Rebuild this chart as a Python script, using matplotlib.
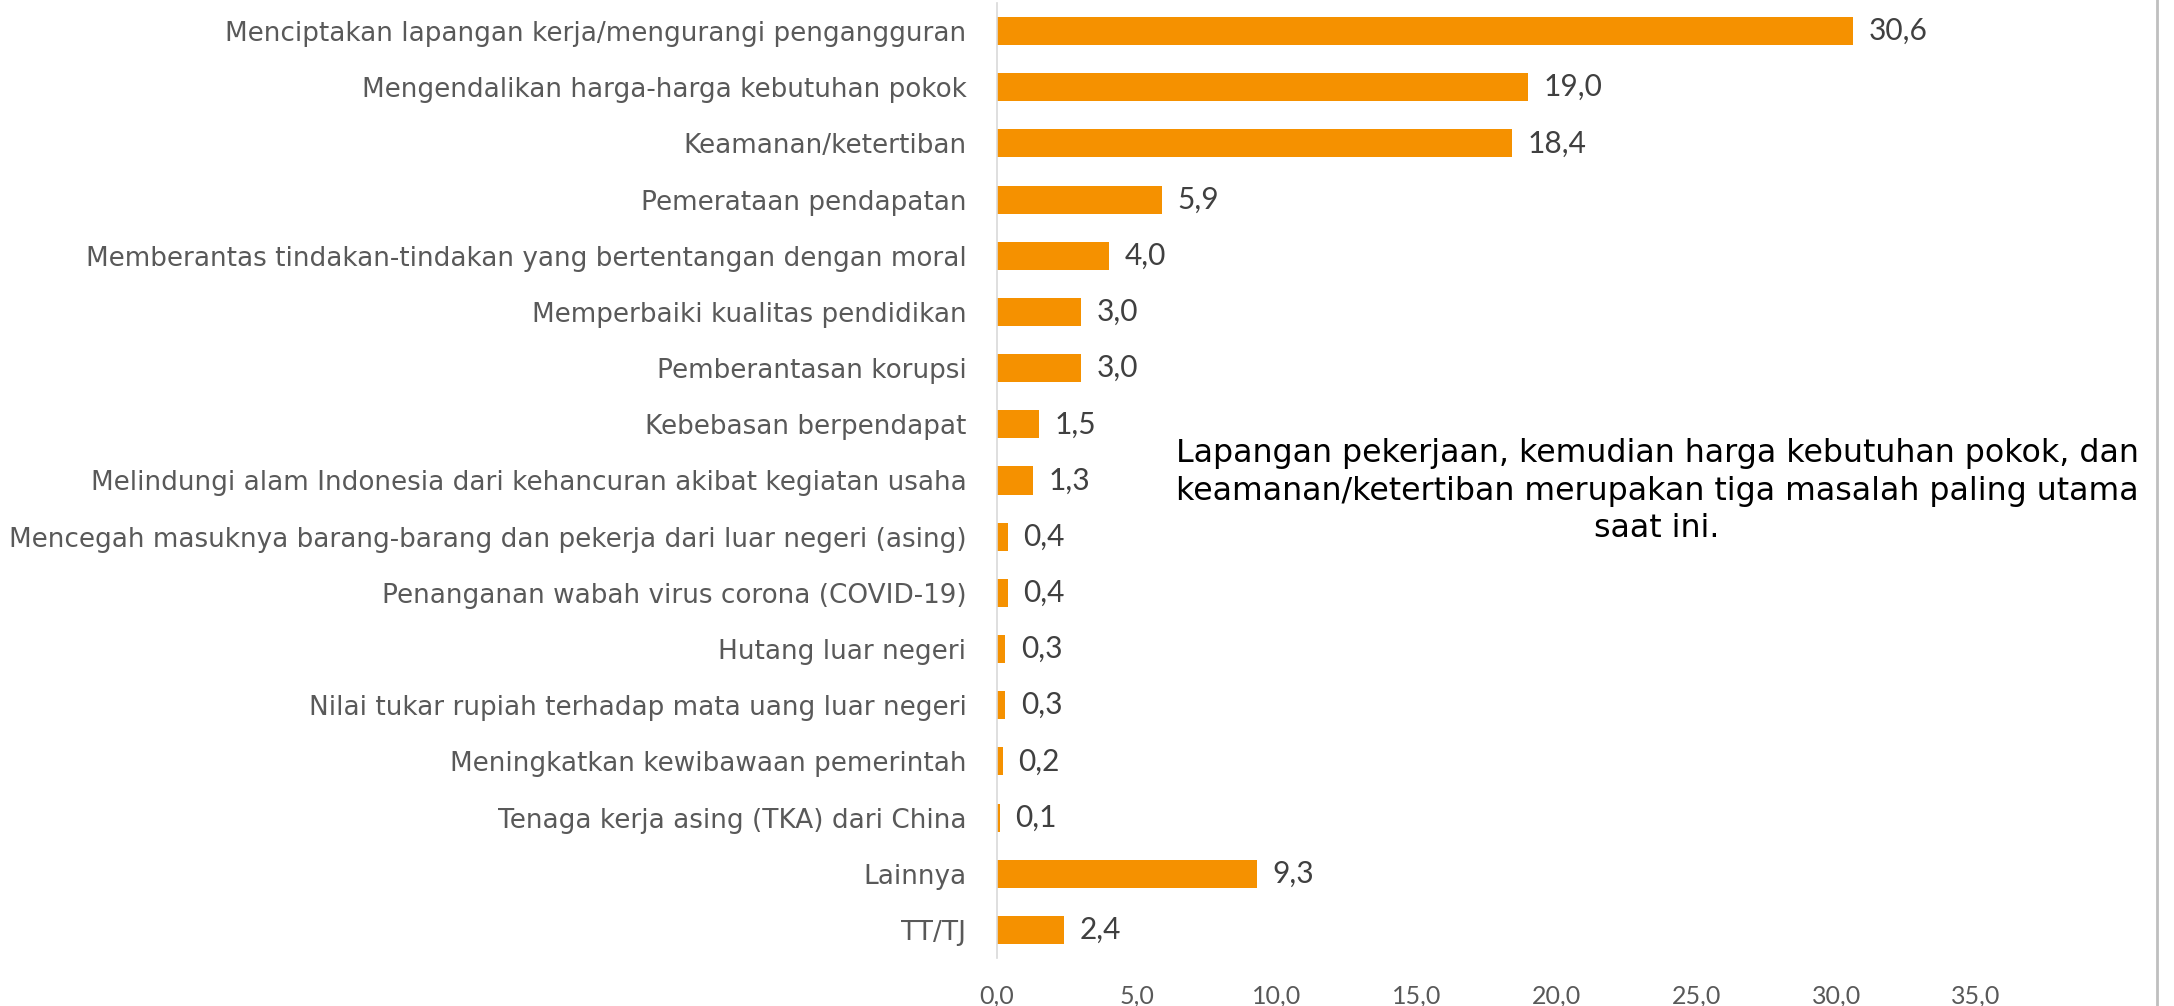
import matplotlib
matplotlib.use("Agg")
import matplotlib.pyplot as plt
from matplotlib.lines import Line2D

categories = [
    "Menciptakan lapangan kerja/mengurangi pengangguran",
    "Mengendalikan harga-harga kebutuhan pokok",
    "Keamanan/ketertiban",
    "Pemerataan pendapatan",
    "Memberantas tindakan-tindakan yang bertentangan dengan moral",
    "Memperbaiki kualitas pendidikan",
    "Pemberantasan korupsi",
    "Kebebasan berpendapat",
    "Melindungi alam Indonesia dari kehancuran akibat kegiatan usaha",
    "Mencegah masuknya barang-barang dan pekerja dari luar negeri (asing)",
    "Penanganan wabah virus corona (COVID-19)",
    "Hutang luar negeri",
    "Nilai tukar rupiah terhadap mata uang luar negeri",
    "Meningkatkan kewibawaan pemerintah",
    "Tenaga kerja asing (TKA) dari China",
    "Lainnya",
    "TT/TJ",
]
values = [30.6, 19.0, 18.4, 5.9, 4.0, 3.0, 3.0, 1.5, 1.3, 0.4, 0.4, 0.3, 0.3, 0.2, 0.1, 9.3, 2.4]
xticks = [0, 5, 10, 15, 20, 25, 30, 35]
note = ("Lapangan pekerjaan, kemudian harga kebutuhan pokok, dan\n"
        "keamanan/ketertiban merupakan tiga masalah paling utama\n"
        "saat ini.")

plt.rcParams['font.family'] = ['DejaVu Sans']
ORANGE = "#F59100"
GRAY = "#595959"

fig = plt.figure(figsize=(21.74, 10.06), dpi=100)
ax = fig.add_axes([997/2174, 1 - 958/1006, (1976 - 997)/2174, (958 - 3)/1006])

ypos = list(range(len(categories)))
ax.barh(ypos, values, height=0.5, color=ORANGE)
ax.set_ylim(len(categories) - 0.5, -0.5)
ax.set_xlim(0, 35)
ax.set_yticks(ypos)
ax.set_yticklabels(categories, fontsize=18.9, color=GRAY)
ax.set_xticks(xticks)
ax.set_xticklabels([f"{t:.1f}".replace(".", ",") for t in xticks], fontsize=18,
                   color=GRAY, family='Lato')
ax.tick_params(axis='both', length=0)
ax.tick_params(axis='y', pad=22)
ax.tick_params(axis='x', pad=19)
for s in ['top', 'right', 'bottom']:
    ax.spines[s].set_visible(False)
ax.spines['left'].set_color("#D9D9D9")
ax.spines['left'].set_linewidth(1.2)

for y, v in zip(ypos, values):
    ax.text(v + 0.55, y, f"{v:.1f}".replace(".", ","), va='center', ha='left',
            fontsize=21.5, color="#404040", family='Lato')

fig.text(1657/2174, 1 - 491/1006, note, ha='center', va='center', fontsize=22.8,
         color="black", linespacing=1.28)

fig.add_artist(Line2D([2157/2174, 2157/2174], [0, 1], color="#BFBFBF", lw=2,
                      transform=fig.transFigure))

fig.savefig("out.png", dpi=100)
